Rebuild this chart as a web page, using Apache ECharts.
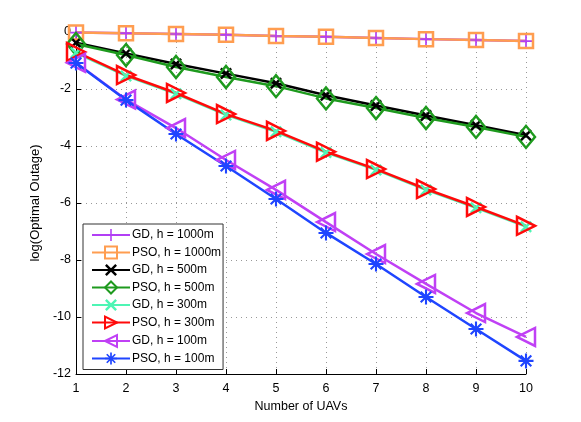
<!DOCTYPE html>
<html>
<head>
<meta charset="utf-8">
<script src="https://cdn.jsdelivr.net/npm/echarts@6/dist/echarts.min.js"></script>
<style>html,body{margin:0;padding:0;background:#fff;}#c{width:581px;height:422px;}</style>
</head>
<body>
<div id="c"></div>
<script>
var uavs = [1, 2, 3, 4, 5, 6, 7, 8, 9, 10];
var gd1000  = [-0.02, -0.04, -0.07, -0.10, -0.14, -0.17, -0.21, -0.25, -0.28, -0.32];
var pso1000 = [-0.02, -0.04, -0.07, -0.10, -0.14, -0.17, -0.21, -0.25, -0.28, -0.32];
var gd500   = [-0.38, -0.75, -1.12, -1.46, -1.80, -2.22, -2.58, -2.93, -3.27, -3.62];
var pso500  = [-0.42, -0.81, -1.23, -1.58, -1.90, -2.33, -2.67, -3.02, -3.33, -3.68];
var gd300   = [-0.73, -1.54, -2.17, -2.91, -3.50, -4.23, -4.84, -5.54, -6.17, -6.83];
var pso300  = [-0.70, -1.51, -2.14, -2.88, -3.47, -4.20, -4.81, -5.51, -6.14, -6.80];
var gd100   = [-1.08, -2.37, -3.37, -4.49, -5.54, -6.67, -7.79, -8.84, -9.86, -10.70];
var pso100  = [-1.09, -2.39, -3.58, -4.70, -5.86, -7.05, -8.14, -9.30, -10.42, -11.54];
var yTicks = [-12, -10, -8, -6, -4, -2, 0];

function bar(angleDeg, L, W) {
  var a = angleDeg * Math.PI / 180, c = Math.cos(a), s = Math.sin(a);
  var pts = [[-L, -W], [L, -W], [L, W], [-L, W]].map(function (p) {
    return (p[0] * c - p[1] * s).toFixed(3) + ',' + (p[0] * s + p[1] * c).toFixed(3);
  });
  return 'M' + pts[0] + ' L' + pts[1] + ' L' + pts[2] + ' L' + pts[3] + ' Z ';
}
function multi(angles, W) {
  var d = '';
  angles.forEach(function (a) { d += bar(a, 1, W); });
  return 'path://' + d;
}
var plusSym = multi([0, 90], 0.13);
var xSym = multi([45, 135], 0.17);
var starSym = multi([0, 45, 90, 135], 0.14);

function pairs(arr) { return uavs.map(function (u, i) { return [u, arr[i]]; }); }

var FONT = 'Liberation Sans';
function mk(name, data, color, symbol, size, opts) {
  opts = opts || {};
  return {
    name: name, type: 'line', data: pairs(data), clip: false,
    symbol: symbol, symbolSize: size, symbolRotate: opts.rot || 0,
    showAllSymbol: true,
    lineStyle: { color: color, width: 2.5 },
    itemStyle: opts.hollow ? { color: 'rgba(0,0,0,0)', borderColor: color, borderWidth: 2.5 } : { color: color, borderWidth: 0 },
    emphasis: { disabled: true },
    animation: false
  };
}

var series = [
  mk('GD, h = 1000m', gd1000, '#b23ff5', plusSym, 13),
  mk('PSO, h = 1000m', pso1000, '#ff9d50', 'rect', 14, { hollow: true }),
  mk('GD, h = 500m', gd500, '#000000', xSym, 12),
  mk('PSO, h = 500m', pso500, '#1e9a1e', 'diamond', [18, 22], { hollow: true }),
  mk('GD, h = 300m', gd300, '#4df5b4', xSym, 12),
  mk('PSO, h = 300m', pso300, '#ff0a0a', 'triangle', 18, { hollow: true, rot: -90 }),
  mk('GD, h = 100m', gd100, '#c040f5', 'triangle', 18, { hollow: true, rot: 90 }),
  mk('PSO, h = 100m', pso100, '#1f45ff', starSym, 15)
];

var chart = echarts.init(document.getElementById('c'), null, { renderer: 'canvas' });
chart.setOption({
  backgroundColor: '#ffffff',
  animation: false,
  textStyle: { fontFamily: FONT },
  grid: { left: 76, right: 55, top: 32, bottom: 48, containLabel: false },
  xAxis: {
    type: 'value', min: 1, max: 10, interval: 1,
    name: 'Number of UAVs', nameLocation: 'middle', nameGap: 21,
    nameTextStyle: { fontFamily: FONT, fontSize: 12.5, color: '#000' },
    axisLine: { show: true, onZero: false, lineStyle: { color: '#000', width: 1 } },
    axisTick: { show: true, inside: true, length: 5, lineStyle: { color: '#000' } },
    axisLabel: { fontFamily: FONT, fontSize: 12.5, color: '#000', margin: 8 },
    splitLine: { show: true, lineStyle: { color: '#999', type: [1, 4], width: 1 } }
  },
  yAxis: {
    type: 'value', min: yTicks[0], max: yTicks[yTicks.length - 1], interval: 2,
    name: 'log(Optimal Outage)', nameLocation: 'middle', nameGap: 29,
    nameTextStyle: { fontFamily: FONT, fontSize: 13, color: '#000' },
    axisLine: { show: true, onZero: false, lineStyle: { color: '#000', width: 1 } },
    axisTick: { show: true, inside: true, length: 5, lineStyle: { color: '#000' } },
    axisLabel: { fontFamily: FONT, fontSize: 12.5, color: '#000', margin: 5 },
    splitLine: { show: true, showMaxLine: false, lineStyle: { color: '#999', type: [1, 4], width: 1 } }
  },
  legend: {
    orient: 'vertical', left: 83, top: 224,
    data: series.map(function (s) { return s.name; }),
    itemWidth: 38, itemHeight: 15, itemGap: 4.5,
    padding: [5, 2, 5, 8],
    backgroundColor: '#ffffff', borderColor: '#333', borderWidth: 1,
    textStyle: { fontFamily: FONT, fontSize: 12, color: '#000', padding: [0, 0, 0, -3] },
    selectedMode: false
  },
  series: series
});
</script>
</body>
</html>
